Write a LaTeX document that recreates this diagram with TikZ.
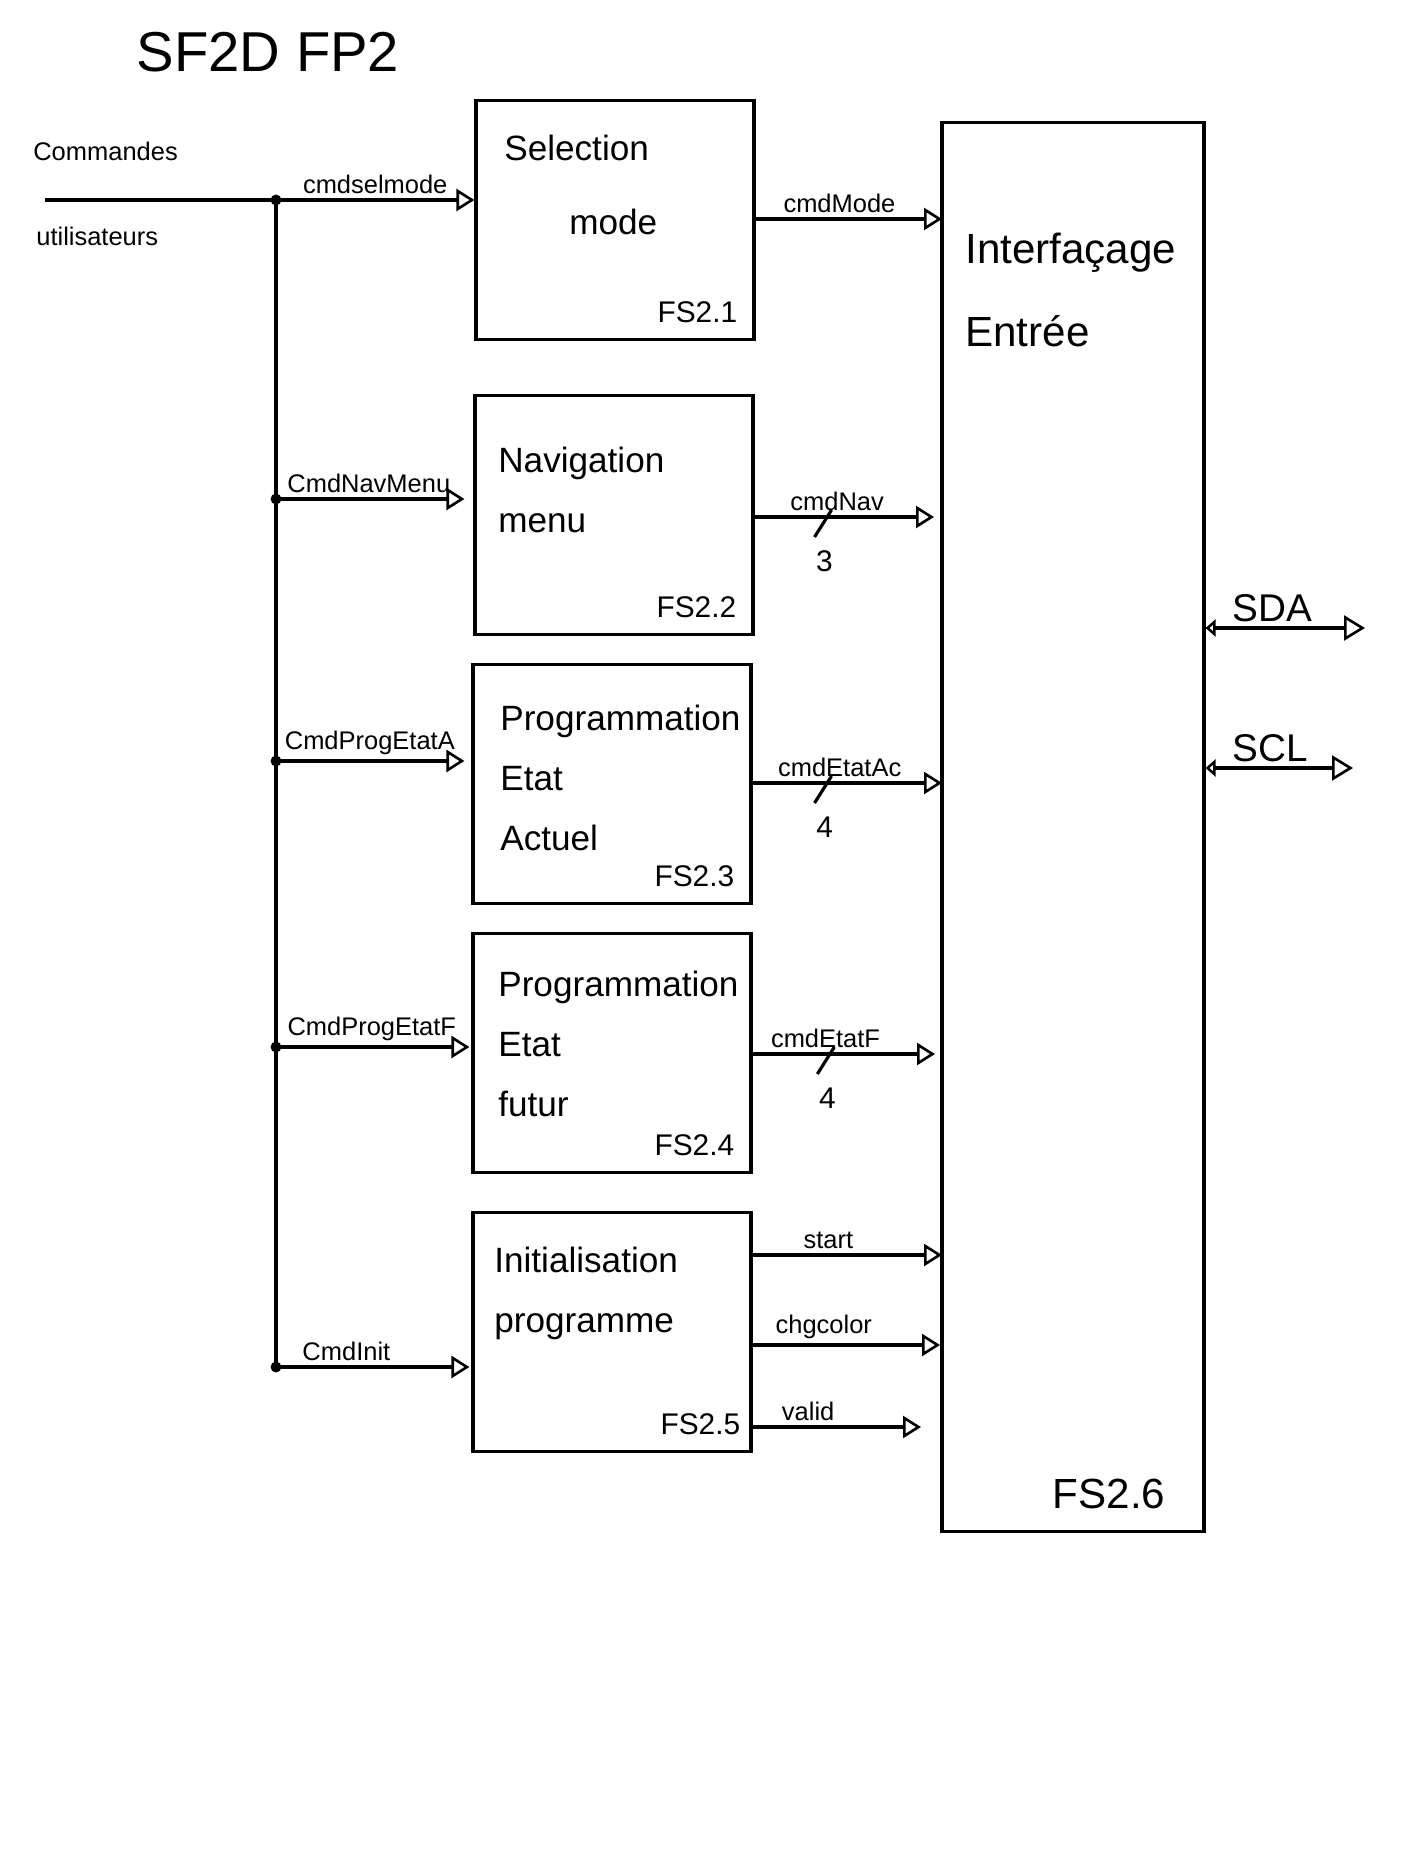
\documentclass[tikz,border=0pt]{standalone}
\usepackage{fontspec}
\setmainfont{Liberation Sans}
\usetikzlibrary{arrows.meta}
\tikzset{
  bloc/.style={draw,line width=1.8pt,minimum width=5.56cm,minimum height=4.78cm,inner sep=0pt},
  sig/.style={line width=1.8pt,-{Triangle[open,length=0.36cm,width=0.44cm,line width=1.5pt]}},
  bidir/.style={line width=1.8pt,{Triangle[open,length=0.2cm,width=0.34cm,line width=1.5pt]}-{Triangle[open,length=0.42cm,width=0.5cm,line width=1.5pt]}},
  fil/.style={line width=1.8pt},
  lbl/.style={font=\fontsize{14.5}{18}\selectfont,inner sep=2.5pt},
  txt/.style={font=\fontsize{20}{34}\selectfont,align=left,inner sep=0pt},
  fs/.style={font=\fontsize{17}{20}\selectfont,inner sep=0pt,anchor=base east},
  num/.style={font=\fontsize{17}{20}\selectfont,inner sep=0pt},
  jonc/.style={fill=black,inner sep=2.2pt,shape=circle}
}
\begin{document}
\begin{tikzpicture}[x=0.02cm,y=-0.02cm]
  \useasboundingbox (0,0) rectangle (1404,1872);
  \node[font=\fontsize{32}{36}\selectfont,anchor=base,inner sep=0pt] (titre) at (268,72) {SF2D FP2};
  \node[lbl,anchor=base west,inner sep=0pt] (cmdu1) at (33,161) {Commandes};
  \node[lbl,anchor=base west,inner sep=0pt] (cmdu2) at (36,245) {utilisateurs};
  % blocs
  \node[bloc] (b1) at (615,220) {};
  \node[bloc] (b2) at (614,515) {};
  \node[bloc] (b3) at (612,784) {};
  \node[bloc] (b4) at (612,1053) {};
  \node[bloc] (b5) at (612,1332) {};
  \node[bloc,minimum width=5.24cm,minimum height=28.2cm] (b6) at (1073,827) {};
  % textes (ancre sur la derniere ligne)
  \node[txt,anchor=base west] (tb1) at (504,235) {Selection\\[0.3cm]\hspace*{1.3cm}mode};
  \node[txt,anchor=base west] (tb2) at (498,532) {Navigation\\menu};
  \node[txt,anchor=base west] (tb3) at (500,850) {Programmation\\Etat\\Actuel};
  \node[txt,anchor=base west] (tb4) at (498,1116) {Programmation\\Etat\\futur};
  \node[txt,anchor=base west] (tb5) at (494,1332) {Initialisation\\programme};
  \node[txt,anchor=base west,font=\fontsize{24}{47}\selectfont] (tb6) at (965,346) {Interfaçage\\Entrée};
  \node[fs] (fs1) at ([shift={(-18,-19)}]b1.south east) {FS2.1};
  \node[fs] (fs2) at ([shift={(-18,-19)}]b2.south east) {FS2.2};
  \node[fs] (fs3) at ([shift={(-18,-19)}]b3.south east) {FS2.3};
  \node[fs] (fs4) at ([shift={(-18,-19)}]b4.south east) {FS2.4};
  \node[fs] (fs5) at ([shift={(-12,-19)}]b5.south east) {FS2.5};
  \node[fs,font=\fontsize{24}{28}\selectfont] (fs6) at ([shift={(-40,-25)}]b6.south east) {FS2.6};
  % entrees
  \coordinate (in) at (45,200);
  \coordinate (j1) at (276,200);
  \coordinate (j2) at (276,499);
  \coordinate (j3) at (276,761);
  \coordinate (j4) at (276,1047);
  \coordinate (j5) at (276,1367);
  \draw[fil] (in) -- (j1);
  \draw[fil] (j1) -- (j5);
  \foreach \j in {j1,j2,j3,j4,j5} \node[jonc] at (\j) {};
  \draw[sig] (j1) -- (j1 -| b1.west) node[lbl,midway,above] {cmdselmode};
  \draw[sig,shorten >=0.18cm] (j2) -- (j2 -| b2.west) node[lbl,pos=0.47,above] {CmdNavMenu};
  \draw[sig,shorten >=0.14cm] (j3) -- (j3 -| b3.west) node[lbl,pos=0.48,above] {CmdProgEtatA};
  \draw[sig,shorten >=0.04cm] (j4) -- (j4 -| b4.west) node[lbl,pos=0.49,above] {CmdProgEtatF};
  \draw[sig,shorten >=0.04cm] (j5) -- (j5 -| b5.west) node[lbl,pos=0.36,above] {CmdInit};
  % sorties
  \coordinate (o1) at (942,219);
  \coordinate (o2) at (934,517);
  \coordinate (o3) at (942,783);
  \coordinate (o4) at (935,1054);
  \coordinate (o5) at (942,1255);
  \coordinate (o6) at (940,1345);
  \coordinate (o7) at (921,1427);
  \draw[sig] (b1.east |- o1) -- (o1) node[lbl,pos=0.45,above] {cmdMode};
  \draw[sig] (b2.east |- o2) -- node[coordinate,pos=0.39] (s2) {} (o2) node[lbl,pos=0.46,above] {cmdNav};
  \draw[sig] (b3.east |- o3) -- node[coordinate,pos=0.38] (s3) {} (o3) node[lbl,pos=0.46,above] {cmdEtatAc};
  \draw[sig] (b4.east |- o4) -- node[coordinate,pos=0.41] (s4) {} (o4) node[lbl,pos=0.4,above] {cmdEtatF};
  \draw[sig] (b5.east |- o5) -- (o5) node[lbl,pos=0.4,above] {start};
  \draw[sig] (b5.east |- o6) -- (o6) node[lbl,pos=0.38,above] {chgcolor};
  \draw[sig] (b5.east |- o7) -- (o7) node[lbl,pos=0.33,above] {valid};
  \foreach \s/\n in {s2/3,s3/4,s4/4} {
    \draw[fil] ([shift={(-10,20)}]\s) -- ([shift={(7,-7)}]\s);
    \node[num] at ([yshift=-0.88cm]\s) {\n};
  }
  % bus I2C
  \coordinate (sda) at (1365,628);
  \coordinate (scl) at (1353,768);
  \draw[bidir] (b6.east |- sda) -- (sda) node[lbl,pos=0.42,above,font=\fontsize{22}{26}\selectfont] {SDA};
  \draw[bidir] (b6.east |- scl) -- (scl) node[lbl,pos=0.44,above,font=\fontsize{22}{26}\selectfont] {SCL};
\end{tikzpicture}
\end{document}
